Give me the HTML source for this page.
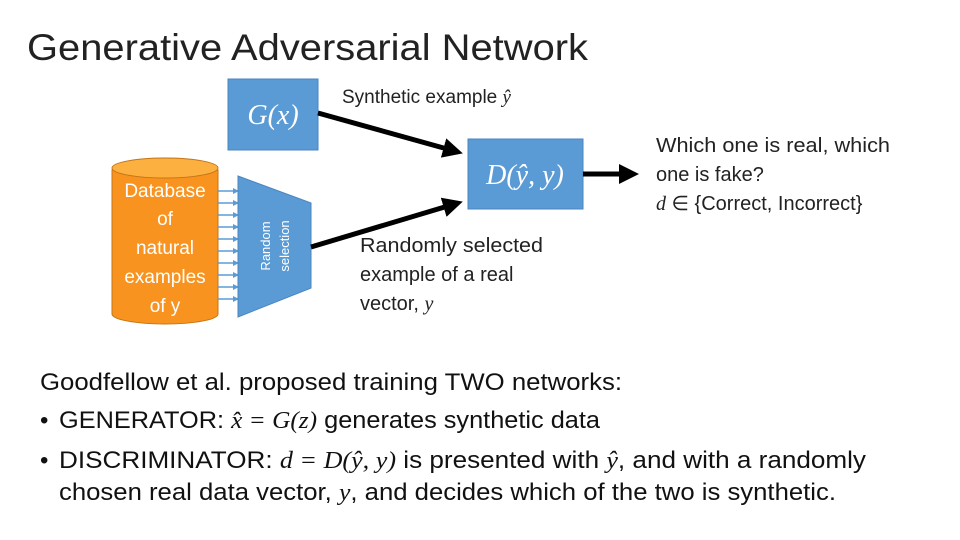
<!DOCTYPE html>
<html><head><meta charset="utf-8"><style>
html,body{margin:0;padding:0;background:#fff;}
svg{display:block;}
text{font-family:"Liberation Sans",sans-serif;}
.m{font-family:"Liberation Serif",serif;font-style:italic;}
</style></head><body>
<svg width="960" height="540" viewBox="0 0 960 540" xmlns="http://www.w3.org/2000/svg">
<defs>
<marker id="ah" markerWidth="4" markerHeight="4" refX="3" refY="2" orient="auto" markerUnits="strokeWidth"><path d="M0,0 L4,2 L0,4 z" fill="#000"/></marker>
<marker id="sa" markerWidth="6" markerHeight="6" refX="5" refY="3" orient="auto" markerUnits="userSpaceOnUse"><path d="M0,0 L6,3 L0,6 z" fill="#5b9bd5"/></marker>
</defs>
<text x="27" y="60" font-size="37" fill="#222" textLength="561" lengthAdjust="spacingAndGlyphs">Generative Adversarial Network</text>

<rect x="228" y="79" width="90" height="71" fill="#5b9bd5" stroke="#4a86c0"/>
<text x="273" y="124" font-size="28" fill="#fff" text-anchor="middle" class="m">G(x)</text>
<rect x="468" y="139" width="115" height="70" fill="#5b9bd5" stroke="#4a86c0"/>
<text x="525" y="184" font-size="28" fill="#fff" text-anchor="middle" class="m">D(ŷ, y)</text>

<path d="M112,170 L112,314 A53,10 0 0 0 218,314 L218,170 z" fill="#f7931e" stroke="#c47516"/>
<ellipse cx="165" cy="168" rx="53" ry="10" fill="#fbb040" stroke="#c47516"/>
<g font-size="19" fill="#fff" text-anchor="middle">
<text x="165" y="197">Database</text><text x="165" y="225">of</text><text x="165" y="254">natural</text><text x="165" y="283">examples</text><text x="165" y="312">of y</text>
</g>
<g stroke="#5b9bd5" stroke-width="1.5">
<line x1="218" y1="191" x2="238" y2="191" marker-end="url(#sa)"/>
<line x1="218" y1="203" x2="238" y2="203" marker-end="url(#sa)"/>
<line x1="218" y1="215" x2="238" y2="215" marker-end="url(#sa)"/>
<line x1="218" y1="227" x2="238" y2="227" marker-end="url(#sa)"/>
<line x1="218" y1="239" x2="238" y2="239" marker-end="url(#sa)"/>
<line x1="218" y1="251" x2="238" y2="251" marker-end="url(#sa)"/>
<line x1="218" y1="263" x2="238" y2="263" marker-end="url(#sa)"/>
<line x1="218" y1="275" x2="238" y2="275" marker-end="url(#sa)"/>
<line x1="218" y1="287" x2="238" y2="287" marker-end="url(#sa)"/>
<line x1="218" y1="299" x2="238" y2="299" marker-end="url(#sa)"/>
</g>
<polygon points="238,176 311,203 311,288 238,317" fill="#5b9bd5" stroke="#4a86c0"/>
<g font-size="13" fill="#fff" text-anchor="middle">
<text transform="translate(270,246) rotate(-90)" x="0" y="0">Random</text>
<text transform="translate(289,246) rotate(-90)" x="0" y="0">selection</text>
</g>

<g stroke="#000" stroke-width="5" fill="none">
<line x1="318" y1="113" x2="458" y2="152" marker-end="url(#ah)"/>
<line x1="311" y1="247" x2="458" y2="203" marker-end="url(#ah)"/>
<line x1="583" y1="174" x2="634" y2="174" marker-end="url(#ah)"/>
</g>

<text x="342" y="103" font-size="19" fill="#222">Synthetic example <tspan class="m">ŷ</tspan></text>
<g font-size="20" fill="#222">
<text x="360" y="252" textLength="183" lengthAdjust="spacingAndGlyphs">Randomly selected</text>
<text x="360" y="281">example of a real</text>
<text x="360" y="310">vector, <tspan class="m">y</tspan></text>
<text x="656" y="152" textLength="234" lengthAdjust="spacingAndGlyphs">Which one is real, which</text>
<text x="656" y="181">one is fake?</text>
<text x="656" y="210"><tspan class="m">d</tspan>  ∈ {Correct, Incorrect}</text>
</g>

<g font-size="24" fill="#111">
<text x="40" y="390" textLength="582" lengthAdjust="spacingAndGlyphs">Goodfellow et al. proposed training TWO networks:</text>
<text x="40" y="428">•</text>
<text x="59" y="428" textLength="541" lengthAdjust="spacingAndGlyphs">GENERATOR: <tspan class="m">x̂ = G(z)</tspan> generates synthetic data</text>
<text x="40" y="468">•</text>
<text x="59" y="468" textLength="807" lengthAdjust="spacingAndGlyphs">DISCRIMINATOR: <tspan class="m">d = D(ŷ, y)</tspan> is presented with <tspan class="m">ŷ</tspan>, and with a randomly</text>
<text x="59" y="500" textLength="777" lengthAdjust="spacingAndGlyphs">chosen real data vector, <tspan class="m">y</tspan>, and decides which of the two is synthetic.</text>
</g>
</svg>
</body></html>
